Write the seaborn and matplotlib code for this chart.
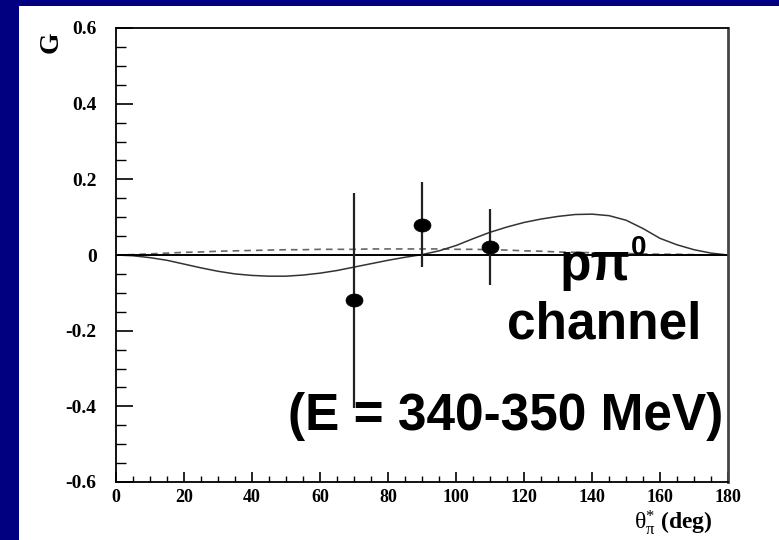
import numpy as np
import pandas as pd
import matplotlib
matplotlib.use("Agg")
import matplotlib.pyplot as plt
from matplotlib.patches import Rectangle
from matplotlib.ticker import MultipleLocator, FixedLocator, FixedFormatter
import seaborn as sns

# ---- data ----
theta_curve = [0, 5, 10, 15, 20, 25, 30, 35, 40, 45, 50, 55, 60, 65, 70, 75, 80, 85, 90,
               95, 100, 105, 110, 115, 120, 125, 130, 135, 140, 145, 150, 155, 160, 165,
               170, 175, 180]
g_solid = [0.0, -0.002, -0.007, -0.014, -0.024, -0.034, -0.043, -0.050, -0.054, -0.056,
           -0.056, -0.053, -0.048, -0.041, -0.032, -0.023, -0.014, -0.006, 0.001,
           0.011, 0.025, 0.043, 0.060, 0.074, 0.086, 0.095, 0.102, 0.107, 0.108, 0.104,
           0.092, 0.070, 0.044, 0.027, 0.014, 0.005, 0.0]
g_dashed = [0.0, 0.001, 0.003, 0.005, 0.007, 0.008, 0.010, 0.011, 0.012, 0.013,
            0.014, 0.014, 0.015, 0.015, 0.015, 0.016, 0.016, 0.016, 0.016,
            0.016, 0.015, 0.015, 0.014, 0.013, 0.011, 0.010, 0.008, 0.007, 0.006, 0.005,
            0.004, 0.003, 0.002, 0.002, 0.001, 0.0, 0.0]

theta_data = [70, 90, 110]
g_data = [-0.12, 0.08, 0.021]
g_err = [0.285, 0.113, 0.10]

yticks = [-0.6, -0.4, -0.2, 0.0, 0.2, 0.4, 0.6]
ytick_labels = ["-0.6", "-0.4", "-0.2", "0", "0.2", "0.4", "0.6"]
xticks = [0, 20, 40, 60, 80, 100, 120, 140, 160, 180]
xtick_labels = ["0", "20", "40", "60", "80", "100", "120", "140", "160", "180"]

curves = pd.DataFrame({"theta": theta_curve, "solid": g_solid, "dashed": g_dashed})
points = pd.DataFrame({"theta": theta_data, "G": g_data, "err": g_err})

# ---- style ----
sns.set_style("ticks")
plt.rcParams["font.family"] = ["Liberation Serif", "DejaVu Serif"]
plt.rcParams["mathtext.fontset"] = "custom"
plt.rcParams["mathtext.rm"] = "Liberation Serif"
plt.rcParams["mathtext.it"] = "Liberation Serif"
plt.rcParams["mathtext.bf"] = "Liberation Serif:bold"
plt.rcParams["mathtext.default"] = "rm"
plt.rcParams["text.color"] = "black"
plt.rcParams["xtick.color"] = "black"
plt.rcParams["ytick.color"] = "black"
plt.rcParams["axes.labelcolor"] = "black"

W, H = 779, 540
fig = plt.figure(figsize=(W / 100, H / 100), dpi=100)
fig.patch.set_facecolor("#000080")
fig.patches.append(Rectangle((19 / W, 0), 1 - 19 / W, 1 - 6 / H,
                             transform=fig.transFigure, facecolor="white",
                             edgecolor="none", zorder=-10))

ax = fig.add_axes([116 / W, 58 / H, (728 - 116) / W, (482 - 28) / H])
ax.set_zorder(1)
ax.set_facecolor("white")

# theory curves
sns.lineplot(data=curves, x="theta", y="dashed", ax=ax, color="#666666",
             linewidth=1.2, linestyle=(0, (4, 3)), sort=False)
sns.lineplot(data=curves, x="theta", y="solid", ax=ax, color="#333333",
             linewidth=1.1, sort=False)

# zero line
ax.axhline(0, color="black", linewidth=1.4, zorder=2)

# measured points with error bars
ax.errorbar(points["theta"], points["G"], yerr=points["err"], fmt="none",
            ecolor="#222222", elinewidth=1.6, capsize=0, zorder=3)
t = np.linspace(0, 2 * np.pi, 40)
ellipse = np.column_stack([1.3 * np.cos(t), np.sin(t)])
sns.scatterplot(data=points, x="theta", y="G", ax=ax, marker=ellipse, s=150,
                color="black", edgecolor="black", linewidth=0.5, zorder=4)

# axes
ax.set_xlim(0, 180)
ax.set_ylim(-0.6, 0.6)
ax.xaxis.set_major_locator(FixedLocator(xticks))
ax.xaxis.set_major_formatter(FixedFormatter(xtick_labels))
ax.xaxis.set_minor_locator(MultipleLocator(5))
ax.yaxis.set_major_locator(FixedLocator(yticks))
ax.yaxis.set_major_formatter(FixedFormatter(ytick_labels))
ax.yaxis.set_minor_locator(MultipleLocator(0.05))

ax.tick_params(axis="x", which="major", direction="in", length=7, width=1.2,
               labelsize=13, pad=5, bottom=True, top=False)
ax.tick_params(axis="x", which="minor", direction="in", length=4, width=1.0,
               bottom=True, top=False)
ax.tick_params(axis="y", which="major", direction="in", length=12, width=1.2,
               labelsize=14, pad=14, left=True, right=False)
ax.tick_params(axis="y", which="minor", direction="in", length=7, width=1.0,
               left=True, right=False)
for lab in ax.get_xticklabels() + ax.get_yticklabels():
    lab.set_fontweight("bold")

for side in ["left", "bottom", "top", "right"]:
    ax.spines[side].set_visible(True)
    ax.spines[side].set_color("black")
    ax.spines[side].set_linewidth(1.3)
ax.spines["right"].set_linewidth(2.0)
ax.spines["right"].set_color("#444444")

ax.set_ylabel("G", fontsize=20, fontweight="bold", rotation=90)
ax.yaxis.set_label_coords(-0.085, 0.968)
ax.set_xlabel(r"$\theta^{*}_{\pi}$ (deg)", fontsize=17, fontweight="bold")
ax.xaxis.set_label_coords(0.91, -0.058)

# annotations
sans = ["Liberation Sans", "DejaVu Sans"]
ax.text(140.9, -0.066, "p\u03c0", fontsize=37, fontweight="bold", family=sans,
        ha="center", va="baseline", zorder=5)
ax.text(151.5, 0.0, "0", fontsize=20, fontweight="bold", family=sans,
        ha="left", va="baseline", zorder=5)
ax.text(143.5, -0.22, "channel", fontsize=37, fontweight="bold", family=sans,
        ha="center", va="baseline", zorder=5)
ax.text(114.7, -0.463, "(E = 340-350 MeV)", fontsize=37, fontweight="bold",
        family=sans, ha="center", va="baseline", zorder=5)

fig.savefig("out.png", dpi=100, facecolor=fig.get_facecolor())
